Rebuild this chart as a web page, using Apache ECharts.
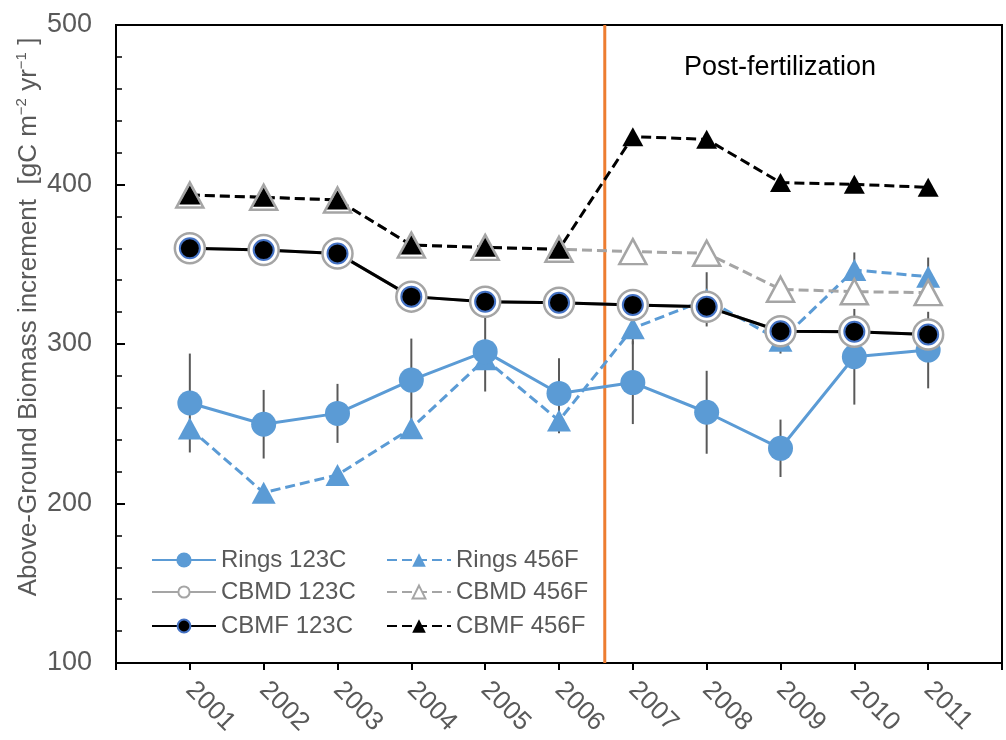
<!DOCTYPE html>
<html>
<head>
<meta charset="utf-8">
<script src="https://cdn.jsdelivr.net/npm/echarts@6/dist/echarts.min.js"></script>
<style>html,body{margin:0;padding:0;background:#fff;}#c{width:1006px;height:740px;}</style>
</head>
<body>
<div id="c"></div>
<script>
const years = [2001, 2002, 2003, 2004, 2005, 2006, 2007, 2008, 2009, 2010, 2011];
const rings123C = [263, 249.7, 256.5, 277.4, 295.2, 269, 275.8, 257.2, 234.6, 292, 296.2];
const rings123CErr = [31, 21.5, 18.5, 26, 25, 22, 26, 26, 18, 30, 24];
const rings456F = [247, 206.8, 217.9, 247.2, 290.5, 252, 309.8, 328, 302, 346.4, 342.2];
const rings456FErr = [5, 5, 5, 5, 5, 8, 10, 17, 8, 11, 12];
const cbmd123C = [360, 358.9, 356.8, 329.7, 326.5, 325.9, 324.5, 323.4, 308, 307.7, 306];
const cbmd456F = [393.4, 392, 390.3, 362, 360.6, 359.4, 357.9, 356.9, 334.3, 332.8, 332.2];
const cbmf123C = [360, 358.9, 356.8, 329.7, 326.5, 325.9, 324.5, 323.4, 308, 307.7, 306];
const cbmf456F = [393.4, 392, 390.3, 362, 360.6, 359.4, 430, 428.3, 401.2, 400.1, 398.2];
const fertilizationYear = 2006.62;
const yTicks = [100, 200, 300, 400, 500];
const annotation = 'Post-fertilization';
const yTitle = 'Above-Ground Biomass increment  [gC m{sup|−2} yr{sup|−1} ]';

const FONT = '"Liberation Sans", Arial, sans-serif';
const BLUE = '#5B9BD5', GRAY = '#A5A5A5', BLACK = '#000000', ORANGE = '#ED7D31';
const DASH = [10, 5];

function pairs(vals) { return years.map((y, i) => [y, vals[i]]); }
function errData(vals, errs) { return years.map((y, i) => [y, vals[i] - errs[i], vals[i] + errs[i]]); }

const errRender = function (params, api) {
  const p1 = api.coord([api.value(0), api.value(1)]);
  const p2 = api.coord([api.value(0), api.value(2)]);
  return { type: 'line', shape: { x1: p1[0], y1: p1[1], x2: p2[0], y2: p2[1] },
           style: { stroke: '#595959', lineWidth: 2 } };
};

function legendAt(name, left, top, ih) {
  return { data: [name], left: left, top: top, padding: 0, itemGap: 0, itemWidth: 64, itemHeight: ih,
           selectedMode: false, textStyle: { fontSize: 24, color: '#595959', fontFamily: FONT } };
}

const chart = echarts.init(document.getElementById('c'), null, { renderer: 'canvas' });
chart.setOption({
  animation: false,
  backgroundColor: '#fff',
  textStyle: { fontFamily: FONT },
  grid: { left: 116, right: 4, top: 25, bottom: 77, show: true, borderColor: '#000', borderWidth: 2, backgroundColor: 'transparent' },
  legend: [
    legendAt('Rings 123C', 151, 548, 19),
    legendAt('Rings 456F', 386, 548, 17),
    legendAt('CBMD 123C', 151, 580, 14),
    legendAt('CBMD 456F', 386, 580, 16),
    legendAt('CBMF 123C', 151, 614, 16),
    legendAt('CBMF 456F', 386, 614, 17)
  ],
  graphic: [{
    type: 'text', x: 780, y: 68, silent: true,
    style: { text: annotation, fontSize: 27, fill: '#000', fontFamily: FONT, align: 'center', verticalAlign: 'middle' }
  }, {
    type: 'text', x: 29, y: 317, rotation: Math.PI / 2, silent: true,
    style: {
      text: yTitle, fontSize: 26, fill: '#595959', fontFamily: FONT, align: 'center', verticalAlign: 'middle',
      lineHeight: 30,
      rich: { sup: { fontSize: 15, lineHeight: 16, verticalAlign: 'top', fill: '#595959', fontFamily: FONT } }
    }
  }],
  xAxis: {
    type: 'value', min: 2000, max: 2012, interval: 1,
    splitLine: { show: false },
    axisLine: { show: true, onZero: false, lineStyle: { color: '#000', width: 2 } },
    axisTick: { show: true, inside: false, length: 7, lineStyle: { color: '#000', width: 2 } },
    axisLabel: { rotate: -45, margin: 23, fontSize: 26, color: '#595959', fontFamily: FONT,
                 formatter: v => years.includes(v) ? String(v) : '' }
  },
  yAxis: {
    type: 'value', min: yTicks[0], max: yTicks[yTicks.length - 1], interval: 100,
    splitLine: { show: false },
    axisLine: { show: true, lineStyle: { color: '#000', width: 2 } },
    axisTick: { show: true, inside: true, length: 9, lineStyle: { color: '#000', width: 2 } },
    minorTick: { show: true, splitNumber: 5, length: 6, lineStyle: { color: '#000', width: 1.5 } },
    axisLabel: { margin: 24, fontSize: 27, color: '#595959', fontFamily: FONT }
  },
  series: [
    { type: 'line', name: 'fert', data: [[fertilizationYear, yTicks[0]], [fertilizationYear, yTicks[yTicks.length - 1]]],
      symbol: 'none', silent: true, lineStyle: { color: ORANGE, width: 3 } },
    { type: 'custom', name: 'errRings123C', renderItem: errRender, data: errData(rings123C, rings123CErr), encode: { x: 0, y: [1, 2] }, silent: true },
    { type: 'custom', name: 'errRings456F', renderItem: errRender, data: errData(rings456F, rings456FErr), encode: { x: 0, y: [1, 2] }, silent: true },
    { type: 'line', name: 'Rings 456F', data: pairs(rings456F), symbol: 'triangle', symbolSize: [24, 22],
      itemStyle: { color: BLUE }, lineStyle: { color: BLUE, width: 3, type: DASH } },
    { type: 'line', name: 'Rings 123C', data: pairs(rings123C), symbol: 'circle', symbolSize: 25,
      itemStyle: { color: BLUE }, lineStyle: { color: BLUE, width: 3 } },
    { type: 'line', name: 'CBMD 123C', data: pairs(cbmd123C), symbol: 'circle', symbolSize: 30,
      itemStyle: { color: '#fff', borderColor: GRAY, borderWidth: 2.5 }, lineStyle: { color: GRAY, width: 3 } },
    { type: 'line', name: 'CBMD 456F', data: pairs(cbmd456F), symbol: 'triangle', symbolSize: [27, 25],
      itemStyle: { color: '#fff', borderColor: GRAY, borderWidth: 2.5 }, lineStyle: { color: GRAY, width: 3, type: DASH } },
    { type: 'line', name: 'CBMF 123C', data: pairs(cbmf123C), symbol: 'circle', symbolSize: 20,
      itemStyle: { color: BLACK, borderColor: '#4472C4', borderWidth: 2 }, lineStyle: { color: BLACK, width: 3 } },
    { type: 'line', name: 'CBMF 456F', data: pairs(cbmf456F), symbol: 'triangle', symbolSize: [21, 19],
      itemStyle: { color: BLACK }, lineStyle: { color: BLACK, width: 3, type: DASH } }
  ]
});
</script>
</body>
</html>
